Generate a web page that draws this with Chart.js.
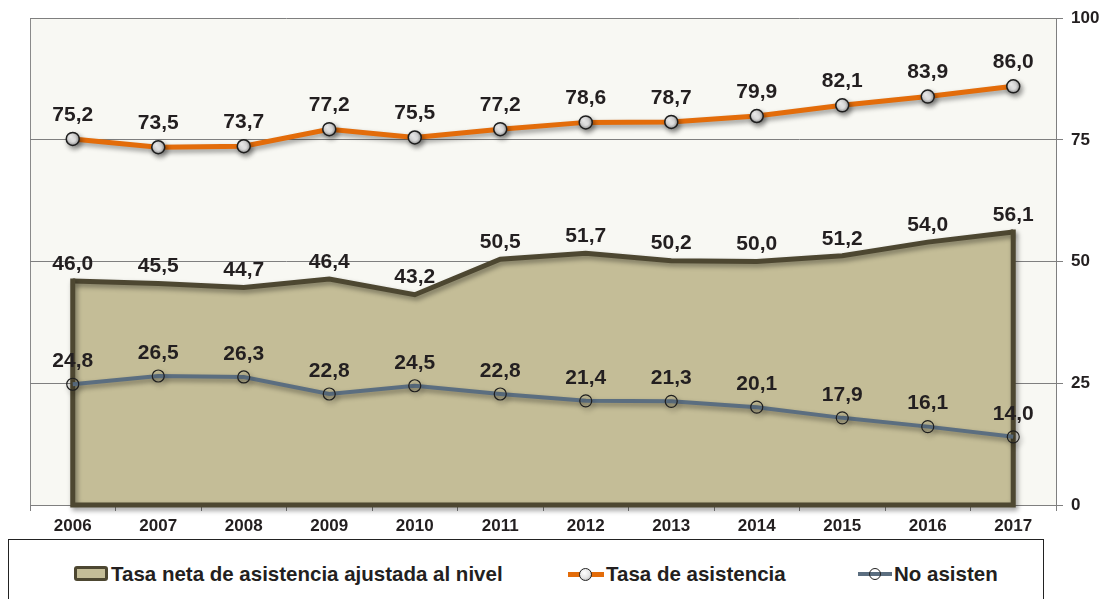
<!DOCTYPE html>
<html>
<head>
<meta charset="utf-8">
<script src="https://cdn.jsdelivr.net/npm/chart.js@4.4.1/dist/chart.umd.min.js"></script>
<style>
  html, body { margin: 0; padding: 0; background: #fff; }
  #wrap { position: relative; width: 1106px; height: 599px; overflow: hidden; }
  #chart { position: absolute; left: 0; top: 0; }
  #legend {
    position: absolute; left: 8px; top: 539px; width: 1036px; height: 80px;
    border: 1.5px solid #222; box-sizing: border-box; background: #fff;
    font: bold 20.5px "Liberation Sans", Arial, sans-serif; color: #231f20;
  }
  .item { position: absolute; top: 22px; height: 24px; line-height: 24px; white-space: nowrap; }
  .item span.txt { position: absolute; top: 0; }
  .ic { position: absolute; }
</style>
</head>
<body>
<div id="wrap">
  <canvas id="chart" width="1106" height="599"></canvas>
  <div id="legend">
    <div class="item" style="left:65px">
      <div class="ic" style="left:0;top:4px;width:34px;height:15px;background:#c4bd97;border:3px solid #4d4731;border-radius:3px;box-sizing:border-box"></div>
      <span class="txt" style="left:37px">Tasa neta de asistencia ajustada al nivel</span>
    </div>
    <div class="item" style="left:559px">
      <div class="ic" style="left:0;top:10px;width:36px;height:5px;background:#e36c0a"></div>
      <div class="ic" style="left:11px;top:6px;width:13px;height:13px;border-radius:50%;background:radial-gradient(circle at 40% 35%, #fff 0%, #e4e4e4 55%, #9a9a9a 100%);border:1.5px solid #222;box-sizing:border-box"></div>
      <span class="txt" style="left:38px">Tasa de asistencia</span>
    </div>
    <div class="item" style="left:849px">
      <div class="ic" style="left:0;top:10px;width:34px;height:4px;background:#5b6e80"></div>
      <div class="ic" style="left:11px;top:6px;width:12px;height:12px;border-radius:50%;border:1px solid #222;box-sizing:border-box"></div>
      <span class="txt" style="left:36px">No asisten</span>
    </div>
  </div>
</div>
<script>
const years = ["2006", "2007", "2008", "2009", "2010", "2011", "2012", "2013", "2014", "2015", "2016", "2017"];
const tasaNeta = [46.0, 45.5, 44.7, 46.4, 43.2, 50.5, 51.7, 50.2, 50.0, 51.2, 54.0, 56.1];
const tasaAsistencia = [75.2, 73.5, 73.7, 77.2, 75.5, 77.2, 78.6, 78.7, 79.9, 82.1, 83.9, 86.0];
const noAsisten = [24.8, 26.5, 26.3, 22.8, 24.5, 22.8, 21.4, 21.3, 20.1, 17.9, 16.1, 14.0];
const yTicks = [0, 25, 50, 75, 100];

const FONT = "'Liberation Sans', Arial, sans-serif";

// plot background + left border
const plotBg = {
  id: 'plotBg',
  beforeDraw(chart) {
    const a = chart.chartArea, ctx = chart.ctx;
    ctx.save();
    ctx.fillStyle = '#f8f8f3';
    ctx.fillRect(a.left, a.top, a.right - a.left, a.bottom - a.top);
    ctx.strokeStyle = '#8a8a8a';
    ctx.lineWidth = 1;
    ctx.beginPath();
    ctx.moveTo(a.left + 0.5, a.top);
    ctx.lineTo(a.left + 0.5, a.bottom);
    ctx.stroke();
    ctx.restore();
  }
};

// drop shadows + closing outline of the area
const shadows = {
  id: 'shadows',
  beforeDatasetDraw(chart, args) {
    const ctx = chart.ctx;
    ctx.save();
    ctx.shadowColor = 'rgba(0,0,0,0.4)';
    ctx.shadowBlur = 5;
    ctx.shadowOffsetX = 2;
    ctx.shadowOffsetY = 3;
  },
  afterDatasetDraw(chart, args) {
    const ctx = chart.ctx;
    if (args.index === 0) {
      const pts = args.meta.data;
      const y0 = chart.scales.y.getPixelForValue(0);
      const first = pts[0], last = pts[pts.length - 1];
      ctx.strokeStyle = '#4d4731';
      ctx.lineWidth = 5;
      ctx.lineJoin = 'miter';
      ctx.lineCap = 'square';
      ctx.beginPath();
      ctx.moveTo(first.x, first.y);
      ctx.lineTo(first.x, y0);
      ctx.lineTo(last.x, y0);
      ctx.lineTo(last.x, last.y);
      ctx.stroke();
    }
    ctx.restore();
  }
};

// value labels with comma decimals
const valueLabels = {
  id: 'valueLabels',
  afterDatasetsDraw(chart) {
    const ctx = chart.ctx;
    ctx.save();
    ctx.font = 'bold 21px ' + FONT;
    ctx.fillStyle = '#231f20';
    ctx.textAlign = 'center';
    ctx.textBaseline = 'middle';
    chart.data.datasets.forEach((ds, i) => {
      const meta = chart.getDatasetMeta(i);
      meta.data.forEach((p, j) => {
        ctx.fillText(ds.data[j].toFixed(1).replace('.', ','), p.x, p.y + ds.labelOffset);
      });
    });
    ctx.restore();
  }
};

// shaded marker fill for the orange series
function markerFill(context) {
  const el = context.element;
  if (!el || el.x == null || isNaN(el.x)) return '#e6e6e6';
  const g = context.chart.ctx.createRadialGradient(el.x - 2, el.y - 2, 0.5, el.x, el.y, 7);
  g.addColorStop(0, '#ffffff');
  g.addColorStop(0.55, '#e2e2e2');
  g.addColorStop(1, '#8f8f8f');
  return g;
}

new Chart(document.getElementById('chart'), {
  type: 'line',
  data: {
    labels: years,
    datasets: [
      {
        label: 'Tasa neta de asistencia ajustada al nivel',
        data: tasaNeta,
        fill: 'origin',
        backgroundColor: '#c4bd97',
        borderColor: '#4d4731',
        borderWidth: 5,
        borderJoinStyle: 'miter',
        pointRadius: 0,
        tension: 0,
        order: 3,
        labelOffset: -17
      },
      {
        label: 'No asisten',
        data: noAsisten,
        fill: false,
        borderColor: '#5b6e80',
        borderWidth: 4,
        pointRadius: 6,
        pointBorderWidth: 1.2,
        pointBorderColor: '#1e1e1e',
        pointBackgroundColor: 'rgba(0,0,0,0)',
        tension: 0,
        order: 2,
        labelOffset: -23
      },
      {
        label: 'Tasa de asistencia',
        data: tasaAsistencia,
        fill: false,
        borderColor: '#e36c0a',
        borderWidth: 5,
        pointRadius: 6.5,
        pointBorderWidth: 1.5,
        pointBorderColor: '#1e1e1e',
        pointBackgroundColor: markerFill,
        tension: 0,
        order: 1,
        labelOffset: -24
      }
    ]
  },
  options: {
    responsive: false,
    animation: false,
    layout: { padding: { top: 18, left: 30, right: 0, bottom: 59 } },
    plugins: {
      legend: { display: false },
      tooltip: { enabled: false }
    },
    scales: {
      x: {
        offset: true,
        grid: {
          offset: true,
          drawOnChartArea: false,
          drawTicks: true,
          tickLength: 6,
          color: '#7f7f7f'
        },
        border: { color: '#7f7f7f', width: 1 },
        ticks: {
          color: '#231f20',
          font: { family: FONT, size: 17, weight: 'bold' },
          padding: 5,
          maxRotation: 0
        },
        afterFit(scale) { scale.height = 35; }
      },
      y: {
        position: 'right',
        min: 0,
        max: 100,
        afterBuildTicks(scale) { scale.ticks = yTicks.map(v => ({ value: v })); },
        grid: {
          color: '#7f7f7f',
          lineWidth: 1,
          tickLength: 7
        },
        border: { color: '#7f7f7f', width: 1 },
        ticks: {
          color: '#231f20',
          font: { family: FONT, size: 17, weight: 'bold' },
          padding: 8
        },
        afterFit(scale) { scale.width = 50; }
      }
    }
  },
  plugins: [plotBg, shadows, valueLabels]
});
</script>
</body>
</html>
